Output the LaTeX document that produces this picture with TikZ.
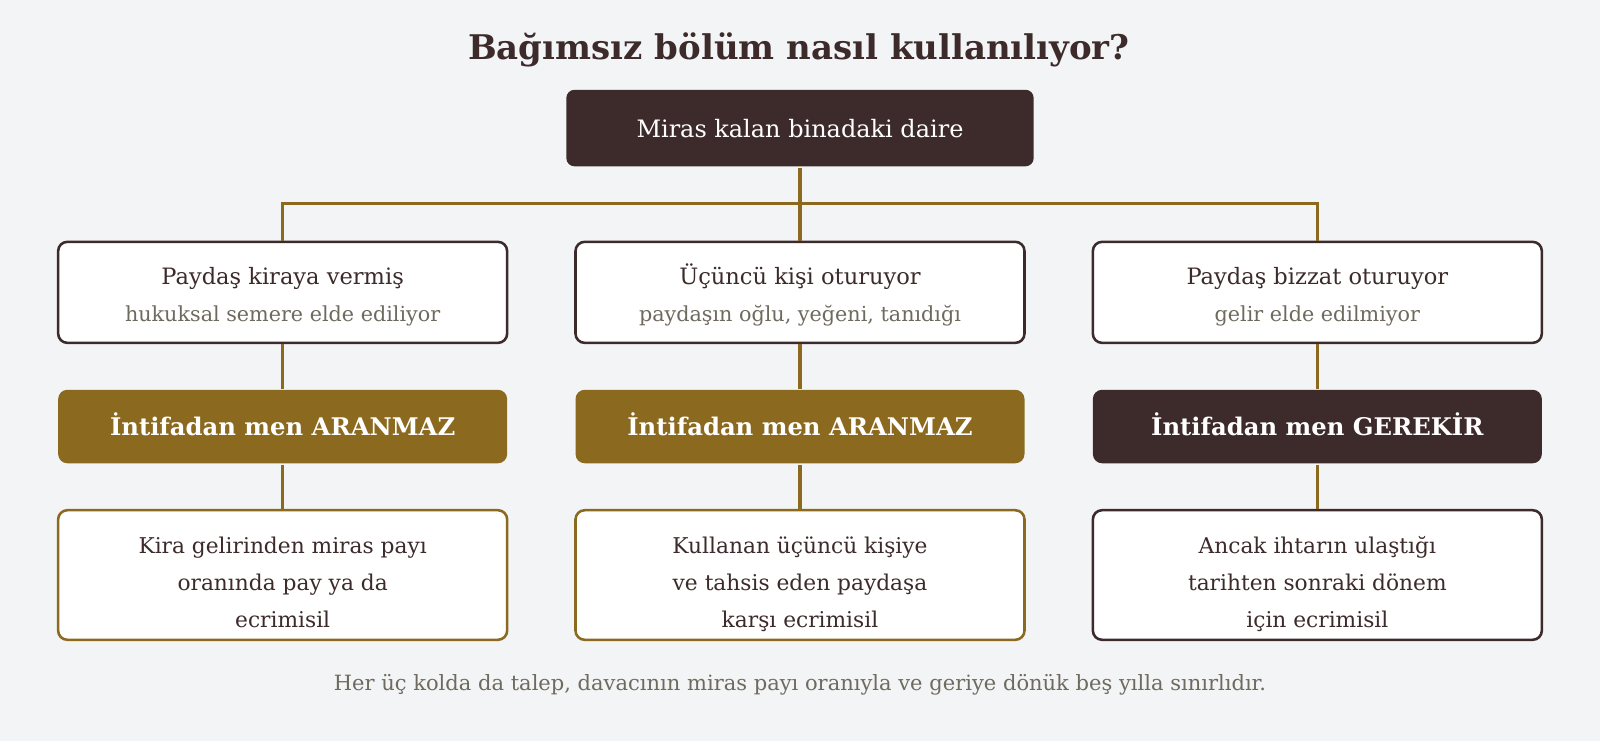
\documentclass[tikz,border=0pt]{standalone}
\usepackage{fontspec}
\setmainfont{DejaVu Serif}
\definecolor{bg}{HTML}{F3F4F6}
\definecolor{dark}{HTML}{3D2B2B}
\definecolor{gold}{HTML}{8B6A20}
\definecolor{sub}{HTML}{6E6A5E}
\tikzset{
  conn/.style={draw=gold, line width=3pt},
  base/.style={rounded corners=9pt, minimum width=440pt, inner sep=0pt, line width=2.5pt},
  casebox/.style={base, draw=dark, fill=white, minimum height=99pt},
  verdict/.style={base, minimum height=72pt},
  result/.style={base, fill=white, minimum height=127pt},
  lbl/.style={anchor=base, inner sep=0pt},
  casetitle/.style={lbl, text=dark, font=\fontsize{22.1}{26}\selectfont},
  casesub/.style={lbl, text=sub, font=\fontsize{20.3}{24}\selectfont},
  verdtext/.style={lbl, text=white, font=\fontsize{23.8}{28}\selectfont\bfseries},
  restext/.style={lbl, text=dark, font=\fontsize{21.3}{26}\selectfont},
}
\begin{document}
\begin{tikzpicture}[x=1pt,y=-1pt]
\fill[bg] (0,0) rectangle (1568,726.2);
\useasboundingbox (0,0) rectangle (1568,726.2);
\node[lbl, text=dark, font=\fontsize{33.3}{38}\selectfont\bfseries] (title) at (783,58) {Bağımsız bölüm nasıl kullanılıyor?};
\node[base, fill=dark, minimum width=458pt, minimum height=75pt, rounded corners=8pt] (top) at (784,125.5) {};
\node[lbl, text=white, font=\fontsize{23.5}{28}\selectfont] (toptext) at (784,135) {Miras kalan binadaki daire};
\coordinate (bus) at (784,199);
% row 1
\node[casebox] (c1) at (277,286.5) {};
\node[casebox] (c2) at (784,286.5) {};
\node[casebox] (c3) at (1291,286.5) {};
\node[casetitle] (c1t) at (277,279) {Paydaş kiraya vermiş};
\node[casesub] (c1s) at (277,315) {hukuksal semere elde ediliyor};
\node[casetitle] (c2t) at (784,279) {Üçüncü kişi oturuyor};
\node[casesub] (c2s) at (784,315) {paydaşın oğlu, yeğeni, tanıdığı};
\node[casetitle] (c3t) at (1291,279) {Paydaş bizzat oturuyor};
\node[casesub] (c3s) at (1291,315) {gelir elde edilmiyor};
% row 2
\node[verdict, fill=gold] (v1) at (277,418) {};
\node[verdict, fill=gold] (v2) at (784,418) {};
\node[verdict, fill=dark] (v3) at (1291,418) {};
\node[verdtext] (v1t) at (277,427) {İntifadan men ARANMAZ};
\node[verdtext] (v2t) at (784,427) {İntifadan men ARANMAZ};
\node[verdtext] (v3t) at (1291,427) {İntifadan men GEREKİR};
% row 3
\node[result, draw=gold] (r1) at (277,563.5) {};
\node[result, draw=gold] (r2) at (784,563.5) {};
\node[result, draw=dark] (r3) at (1291,563.5) {};
\node[restext] (r1a) at (277,542) {Kira gelirinden miras payı};
\node[restext] (r1b) at (277,579) {oranında pay ya da};
\node[restext] (r1c) at (277,615) {ecrimisil};
\node[restext] (r2a) at (784,542) {Kullanan üçüncü kişiye};
\node[restext] (r2b) at (784,579) {ve tahsis eden paydaşa};
\node[restext] (r2c) at (784,615) {karşı ecrimisil};
\node[restext] (r3a) at (1291,542) {Ancak ihtarın ulaştığı};
\node[restext] (r3b) at (1291,579) {tarihten sonraki dönem};
\node[restext] (r3c) at (1291,615) {için ecrimisil};
\node[lbl, text=sub, font=\fontsize{20.6}{25}\selectfont] (foot) at (784,677) {Her üç kolda da talep, davacının miras payı oranıyla ve geriye dönük beş yılla sınırlıdır.};
% connectors
\draw[conn] (top.south) -- (top.south |- bus);
\draw[conn] (c1.north) -- (c1.north |- bus) -- (c3.north |- bus) -- (c3.north);
\draw[conn] (c2.north |- bus) -- (c2.north);
\foreach \i in {1,2,3} {
  \draw[conn] (c\i.south) -- (v\i.north);
  \draw[conn] (v\i.south) -- (r\i.north);
}
\end{tikzpicture}
\end{document}
